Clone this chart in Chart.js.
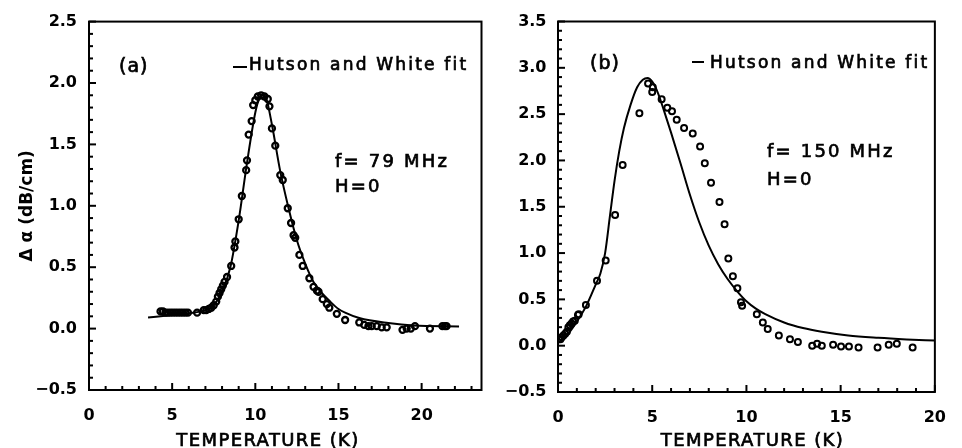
<!DOCTYPE html>
<html><head><meta charset="utf-8">
<script src="https://cdn.jsdelivr.net/npm/chart.js@4.4.0/dist/chart.umd.min.js"></script>
<style>
html,body{margin:0;padding:0;background:#fff;}
#wrap{position:relative;width:962px;height:448px;background:#fff;}
canvas{position:absolute;left:0;top:0;}
</style></head><body>
<div id="wrap"><canvas id="ca" width="962" height="448"></canvas><canvas id="cb" width="962" height="448"></canvas></div>
<script>
// ---------- Panel (a): f = 79 MHz ----------
const tempA = [4.3,4.45,4.6,4.75,4.9,5.05,5.2,5.35,5.5,5.65,5.8,5.95,6.5,6.9,7.05,7.2,7.35,7.5,
  7.65,7.75,7.85,7.95,8.05,8.15,8.3,8.55,8.75,8.8,9.0,9.19,9.45,9.5,9.6,9.78,9.87,10.0,10.15,10.35,10.55,10.75,10.85,
  11.0,11.2,11.5,11.65,11.95,12.15,12.3,12.4,12.65,12.85,13.25,13.5,13.7,13.8,14.05,14.3,14.45,14.9,15.4,16.25,16.55,16.8,17.0,17.3,17.6,17.9,18.85,19.1,19.35,19.6,20.5,21.25,21.4,21.5];
const alphaA = [0.14,0.14,0.13,0.13,0.13,0.13,0.13,0.13,0.13,0.13,0.13,0.13,0.13,0.15,0.15,0.16,0.17,0.19,
  0.22,0.26,0.29,0.32,0.35,0.38,0.42,0.51,0.66,0.71,0.89,1.08,1.29,1.37,1.58,1.69,1.82,1.86,1.89,1.90,1.89,1.87,1.81,
  1.63,1.49,1.25,1.21,0.98,0.86,0.76,0.74,0.60,0.51,0.41,0.34,0.31,0.30,0.24,0.20,0.17,0.12,0.07,0.05,0.03,0.02,0.02,0.02,0.01,0.01,-0.01,0.0,0.0,0.02,0.0,0.02,0.02,0.02];
const fitTempA  = [3.55,5,6,7,7.5,8,8.5,9,9.5,10,10.25,10.45,10.65,11,11.5,12,12.5,13,13.5,14,14.5,15,15.4,16.25,18,19.5,22.25];
const fitAlphaA = [0.09,0.11,0.125,0.15,0.19,0.3,0.5,0.88,1.35,1.76,1.88,1.905,1.88,1.66,1.28,0.98,0.72,0.53,0.38,0.29,0.22,0.16,0.13,0.086,0.045,0.025,0.018];

// ---------- Panel (b): f = 150 MHz ----------
const tempB = [0.13,0.2,0.29,0.38,0.47,0.55,0.63,0.72,0.8,0.89,1.06,1.1,1.48,2.07,2.53,3.03,3.43,4.32,4.78,5.03,5.0,5.5,5.8,6.05,6.3,6.69,7.15,7.54,7.79,8.12,8.57,8.84,9.04,9.28,9.52,9.71,9.77,10.55,10.87,11.13,11.72,12.31,12.73,13.49,13.75,14.0,14.6,15.02,15.44,15.95,16.96,17.55,17.98,18.82];
const alphaB = [0.07,0.09,0.11,0.13,0.15,0.2,0.22,0.24,0.26,0.27,0.33,0.34,0.44,0.70,0.92,1.41,1.95,2.51,2.83,2.79,2.74,2.66,2.57,2.53,2.44,2.35,2.29,2.15,1.97,1.76,1.55,1.31,0.94,0.75,0.62,0.47,0.43,0.34,0.25,0.18,0.11,0.07,0.04,0.0,0.02,0.0,0.01,-0.01,-0.01,-0.02,-0.02,0.01,0.02,-0.02];
const fitTempB  = [0,0.5,1,1.5,2,2.25,2.5,2.75,3.0,3.25,3.5,3.85,4.2,4.5,4.75,5.0,5.3,5.62,6.0,6.5,7.0,7.5,8.0,8.5,9.0,9.5,10,10.5,11,12,13,14,15.4,17,18.5,20];
const fitAlphaB = [0.03,0.12,0.26,0.43,0.66,0.78,1.0,1.39,1.78,2.1,2.35,2.6,2.79,2.87,2.89,2.85,2.73,2.54,2.3,1.97,1.63,1.33,1.08,0.88,0.72,0.59,0.48,0.4,0.34,0.25,0.19,0.15,0.11,0.085,0.068,0.055];

const yTicksA = [-0.5,0,0.5,1,1.5,2,2.5];
const yTicksB = [-0.5,0,0.5,1,1.5,2,2.5,3,3.5];
const xTicksA = [0,5,10,15,20];
const xTicksB = [0,5,10,15,20];
const legendText = 'Hutson and White fit';
const xTitle = 'TEMPERATURE (K)';
const yTitle = 'Δ α (dB/cm)';

const pts = (xs, ys) => xs.map((v, i) => ({x: v, y: ys[i]}));
const fmt = v => (v < 0 ? '\u2212' + Math.abs(v).toFixed(1) : v.toFixed(1));

function heavyText(ctx, s, x, y) {
  ctx.fillText(s, x, y);
  ctx.strokeText(s, x, y);
}

const framePlugin = {
  id: 'framePlugin',
  afterDraw(chart, args, o) {
    const ctx = chart.ctx;
    const a = chart.chartArea;
    const xs = chart.scales.x, ys = chart.scales.y;
    ctx.save();
    ctx.strokeStyle = '#000';
    ctx.fillStyle = '#000';
    ctx.lineCap = 'butt';
    ctx.lineWidth = 2;
    ctx.strokeRect(a.left, a.top, a.right - a.left, a.bottom - a.top);
    ctx.lineWidth = 2;
    const y0 = Math.round(ys.min * 10), y1 = Math.round(ys.max * 10);
    for (let i = y0; i <= y1; i++) {
      const py = ys.getPixelForValue(i / 10);
      const len = (Math.abs(i) % 5 === 0) ? 7 : 4;
      ctx.beginPath(); ctx.moveTo(a.left, py); ctx.lineTo(a.left + len, py); ctx.stroke();
    }
    const x0 = Math.ceil(xs.min), x1 = Math.floor(xs.max);
    for (let i = x0; i <= x1; i++) {
      const px = xs.getPixelForValue(i);
      const len = (i % 5 === 0) ? 7 : 4;
      ctx.beginPath(); ctx.moveTo(px, a.bottom); ctx.lineTo(px, a.bottom - len); ctx.stroke();
    }
    // annotations
    ctx.textAlign = 'left';
    ctx.textBaseline = 'alphabetic';
    ctx.lineWidth = 0.7;
    ctx.font = '19px "DejaVu Sans"';
    ctx.letterSpacing = '1px';
    heavyText(ctx, o.panel, o.panelX, o.panelY);
    ctx.lineWidth = 2;
    ctx.beginPath(); ctx.moveTo(o.dashX1, o.dashY); ctx.lineTo(o.dashX2, o.dashY); ctx.stroke();
    ctx.lineWidth = 0.7;
    ctx.font = '17px "DejaVu Sans"';
    ctx.letterSpacing = '2.2px';
    heavyText(ctx, legendText, o.legX, o.legY);
    ctx.font = '18px "DejaVu Sans"';
    ctx.letterSpacing = '2.2px';
    heavyText(ctx, o.freq, o.fX, o.fY);
    heavyText(ctx, 'H=0', o.fX, o.hY);
    ctx.font = '18px "DejaVu Sans"';
    ctx.letterSpacing = '1.4px';
    ctx.textAlign = 'center';
    heavyText(ctx, xTitle, o.tX, o.tY);
    ctx.restore();
  }
};

function makeChart(id, P) {
  return new Chart(document.getElementById(id), {
    type: 'scatter',
    data: {
      datasets: [
        {data: pts(P.tx, P.ty), showLine: false, pointRadius: 3, pointBorderWidth: P.pbw,
         pointBorderColor: '#000', pointBackgroundColor: 'rgba(0,0,0,0)', pointStyle: 'circle'},
        {data: pts(P.fx, P.fy), showLine: true, pointRadius: 0, borderColor: '#000', borderWidth: 2,
         cubicInterpolationMode: 'monotone', fill: false}
      ]
    },
    options: {
      responsive: false, animation: false, devicePixelRatio: 1,
      layout: {padding: P.pad},
      plugins: {legend: {display: false}, tooltip: {enabled: false}, framePlugin: P.ann},
      scales: {
        x: {type: 'linear', min: P.xmin, max: P.xmax,
            grid: {display: false, drawTicks: false}, border: {display: false},
            afterBuildTicks: s => { s.ticks = P.xticks.map(v => ({value: v})); },
            afterFit: s => { s.height = P.xh; },
            ticks: {padding: 16, color: '#000', font: {family: 'DejaVu Sans', weight: 'bold', size: 16},
                    callback: v => String(v)}},
        y: {type: 'linear', min: P.ymin, max: P.ymax,
            grid: {display: false, drawTicks: false}, border: {display: false},
            afterBuildTicks: s => { s.ticks = P.yticks.map(v => ({value: v})); },
            afterFit: s => { s.width = P.yw; },
            title: P.ytitle,
            ticks: {padding: P.ypad, color: '#000', font: {family: 'DejaVu Sans', weight: 'bold', size: 16},
                    callback: v => fmt(v)}}
      }
    },
    plugins: [framePlugin]
  });
}

makeChart('ca', {
  tx: tempA, ty: alphaA, fx: fitTempA, fy: fitAlphaA, pbw: 2.3,
  xmin: 0, xmax: 23.6, ymin: -0.5, ymax: 2.5, xticks: xTicksA, yticks: yTicksA,
  pad: {left: 0, top: 18.5, right: 480.5, bottom: 0}, yw: 89, xh: 58, ypad: 12,
  ytitle: {display: true, text: yTitle, color: '#000', padding: {top: 17.8, bottom: 0},
           font: {family: 'DejaVu Sans', weight: 'bold', size: 17}},
  ann: {panel: '(a)', panelX: 119, panelY: 72, dashX1: 233, dashX2: 247, dashY: 67,
        legX: 249, legY: 69.5, freq: 'f= 79 MHz', fX: 335, fY: 166.7, hY: 191.7, tX: 268, tY: 445.5}
});

makeChart('cb', {
  tx: tempB, ty: alphaB, fx: fitTempB, fy: fitAlphaB, pbw: 2,
  xmin: 0, xmax: 20, ymin: -0.5, ymax: 3.5, xticks: xTicksB, yticks: yTicksB,
  pad: {left: 490, top: 21.5, right: 11.5, bottom: 0}, yw: 68, xh: 56, ypad: 11.5,
  ytitle: {display: false},
  ann: {panel: '(b)', panelX: 590, panelY: 69, dashX1: 692, dashX2: 704, dashY: 62,
        legX: 710, legY: 68, freq: 'f= 150 MHz', fX: 767, fY: 156.7, hY: 185, tX: 752.5, tY: 445.5}
});
</script>
</body></html>
